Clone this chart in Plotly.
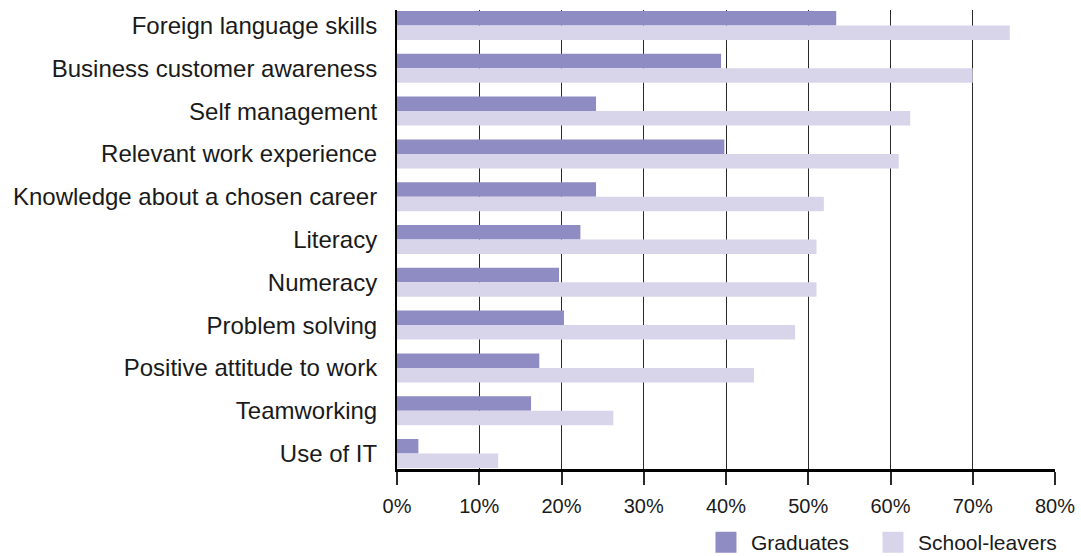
import plotly.graph_objects as go

categories = [
    "Foreign language skills",
    "Business customer awareness",
    "Self management",
    "Relevant work experience",
    "Knowledge about a chosen career",
    "Literacy",
    "Numeracy",
    "Problem solving",
    "Positive attitude to work",
    "Teamworking",
    "Use of IT",
]
graduates = [53.4, 39.4, 24.2, 39.8, 24.2, 22.3, 19.7, 20.3, 17.3, 16.3, 2.6]
school_leavers = [74.5, 70.0, 62.4, 61.0, 51.9, 51.0, 51.0, 48.4, 43.4, 26.3, 12.3]
x_ticks = [0, 10, 20, 30, 40, 50, 60, 70, 80]
x_tick_labels = ["0%", "10%", "20%", "30%", "40%", "50%", "60%", "70%", "80%"]

GRAD_COLOR = "#8f8cc4"
SCHOOL_COLOR = "#d8d5ea"
FONT = "Liberation Sans, Arial, sans-serif"
TEXT = "#1a1a1a"

fig = go.Figure()
fig.add_trace(go.Bar(y=categories, x=graduates, orientation="h", name="Graduates",
                     marker=dict(color=GRAD_COLOR, line=dict(width=0)), showlegend=False))
fig.add_trace(go.Bar(y=categories, x=school_leavers, orientation="h", name="School-leavers",
                     marker=dict(color=SCHOOL_COLOR, line=dict(width=0)), showlegend=False))
# legend entries (one legend per entry so each can be placed independently)
for nm, col, lg in [("Graduates", GRAD_COLOR, "legend"), ("School-leavers", SCHOOL_COLOR, "legend2")]:
    fig.add_trace(go.Scatter(x=[None], y=[None], mode="markers", name=nm, legend=lg,
                             marker=dict(symbol="square", size=16, color=col,
                                         line=dict(color=col, width=5))))

legend_common = dict(orientation="h", xref="container", yref="container",
                     xanchor="right", y=0.0243, yanchor="middle",
                     font=dict(size=21, color=TEXT), itemsizing="trace",
                     itemwidth=40, bgcolor="rgba(0,0,0,0)")

fig.update_layout(
    width=1081, height=556,
    margin=dict(l=397, r=26, t=10, b=86.5, pad=0, autoexpand=False),
    paper_bgcolor="white", plot_bgcolor="white",
    barmode="group", bargap=0.323, bargroupgap=0,
    font=dict(family=FONT, size=21, color=TEXT),
    showlegend=True,
    legend=dict(x=0.7909, **legend_common),
    legend2=dict(x=0.9824, **legend_common),
    xaxis=dict(range=[0, 80], tickmode="array", tickvals=x_ticks, ticktext=x_tick_labels,
               showgrid=True, gridcolor="#2a2a2a", gridwidth=1, zeroline=False,
               showline=True, linecolor="black", linewidth=3,
               ticks="outside", ticklen=13, tickcolor="#2a2a2a", tickwidth=1.5,
               ticklabelstandoff=4,
               tickfont=dict(size=20, color=TEXT), automargin=False, fixedrange=True),
    yaxis=dict(type="category", categoryorder="array", categoryarray=categories,
               range=[10.362, -0.362], showgrid=False, zeroline=False,
               showline=True, linecolor="black", linewidth=2,
               ticks="", ticklabelstandoff=13, automargin=False,
               tickfont=dict(size=24, color=TEXT), fixedrange=True),
)

fig.write_html("out.html", config={"displayModeBar": False},
               post_script="document.body.style.margin='0';document.body.style.overflow='hidden';")
